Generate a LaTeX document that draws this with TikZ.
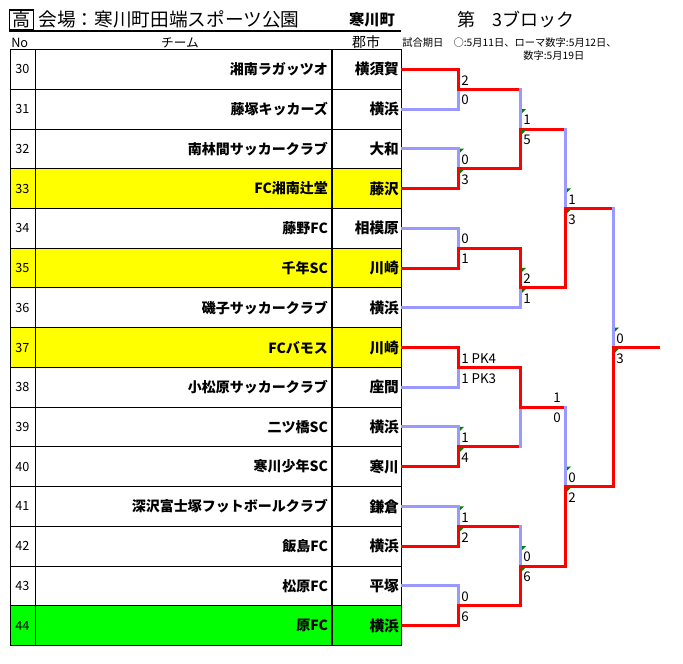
\documentclass[tikz,border=0pt]{standalone}
\usepackage{fontspec}
\setmainfont{Noto Sans CJK JP}
\usetikzlibrary{positioning}

\definecolor{wincol}{RGB}{255,0,0}
\definecolor{losecol}{RGB}{153,153,255}
\definecolor{seedyel}{RGB}{255,255,0}
\definecolor{seedgrn}{RGB}{0,255,0}
\definecolor{errgrn}{RGB}{0,128,0}

\begin{document}
\begin{tikzpicture}[
        x=0.75pt, y=-0.75pt,
        nocell/.style={rectangle, draw=black, line width=0.7pt, minimum width=18.75pt, minimum height=29.8pt, inner sep=0pt, align=center, font=\fontsize{9.5}{11}\selectfont},
        teamcell/.style={rectangle, draw=black, line width=0.7pt, minimum width=222pt, minimum height=29.8pt, inner xsep=3pt, inner ysep=0pt, text width=216pt, align=right, font=\fontsize{10.5}{12}\selectfont\bfseries},
        citycell/.style={rectangle, draw=black, line width=0.7pt, minimum width=51.75pt, minimum height=29.8pt, inner xsep=2.25pt, inner ysep=0pt, text width=47.25pt, align=right, font=\fontsize{11}{13}\selectfont\bfseries},
        head/.style={inner sep=0pt, font=\fontsize{9.5}{11}\selectfont},
        note/.style={anchor=west, inner sep=0pt, font=\fontsize{7.7}{9}\selectfont},
        win/.style={draw=wincol, line width=2.25pt, line cap=rect},
        lose/.style={draw=losecol, line width=2.25pt, line cap=rect},
        score/.style={anchor=west, inner sep=0pt, font=\fontsize{10}{12}\selectfont},
        errmark/.pic={\fill[errgrn] (0,0) -- (4,0) -- (0,4) -- cycle;}
        ]

        \fill[white] (0,0) rectangle (683,664);
        \useasboundingbox (0,0) rectangle (683,664);

        % title line
        \node[draw, line width=1pt, minimum width=18pt, minimum height=14.5pt, inner sep=0pt, font=\fontsize{13.5}{14}\selectfont] (koukou) at (21.5,19.5) {高};
        \node[inner sep=0pt, right=3pt of koukou, font=\fontsize{14}{16}\selectfont] (venue) {会場：寒川町田端スポーツ公園};
        \node[inner sep=0pt, font=\fontsize{11.5}{13}\selectfont\bfseries] (town) at (372,20) {寒川町};
        \node[inner sep=0pt, font=\fontsize{13.5}{15}\selectfont] (block) at (516,20) {第\hspace{0.9em}3ブロック};
        \draw[line width=0.8pt] (9,31) -- (401,31);

        % column heads and dates
        \node[head, anchor=west] (hno) at (11,42.5) {No};
        \node[head] (hteam) at (180,42.5) {チーム};
        \node[head, font=\fontsize{10.5}{12}\selectfont] (hcity) at (366,42) {郡市};
        \node[note] (note1) at (402,43) {試合期日　○:5月11日、ローマ数字:5月12日、};
        \node[note] (note2) at (523,56) {数字:5月19日};

        % table rows
        \foreach \n/\team/\city/\bg [count=\k from 0] in {
            30/湘南ラガッツオ/横須賀/white,
            31/藤塚キッカーズ/横浜/white,
            32/南林間サッカークラブ/大和/white,
            33/FC湘南辻堂/藤沢/seedyel,
            34/藤野FC/相模原/white,
            35/千年SC/川崎/seedyel,
            36/磯子サッカークラブ/横浜/white,
            37/FCバモス/川崎/seedyel,
            38/小松原サッカークラブ/座間/white,
            39/二ツ橋SC/横浜/white,
            40/寒川少年SC/寒川/white,
            41/深沢富士塚フットボールクラブ/鎌倉/white,
            42/飯島FC/横浜/white,
            43/松原FC/平塚/white,
            44/原FC/横浜/seedgrn}
        {
            \node[nocell, fill=\bg] (n\n) at (22.5,{69.4+39.73*\k}) {\n};
            \node[teamcell, fill=\bg, right=0pt of n\n] (t\n) {\team};
            \node[citycell, fill=\bg, right=0pt of t\n] (c\n) {\city};
        }

        % junctions
        \coordinate (q1) at (458,89.2);
        \coordinate (q2) at (458,168.7);
        \coordinate (q3) at (458,248.1);
        \coordinate (q4) at (458,367.3);
        \coordinate (q5) at (458,446.8);
        \coordinate (q6) at (458,526.3);
        \coordinate (q7) at (458,605.7);
        \coordinate (r1) at (520,129);
        \coordinate (r2) at (520,287.9);
        \coordinate (r3) at (520,407);
        \coordinate (r4) at (520,566);
        \coordinate (s1) at (565,208.4);
        \coordinate (s2) at (565,486.5);
        \coordinate (f) at (613,347.5);
        \coordinate (champ) at (658,347.5);

        % first round
        \draw[win] (c30.east) -| (q1);
        \draw[lose] (c31.east) -| (q1);
        \draw[lose] (c32.east) -| (q2);
        \draw[win] (c33.east) -| (q2);
        \draw[lose] (c34.east) -| (q3);
        \draw[win] (c35.east) -| (q3);
        \draw[win] (c37.east) -| (q4);
        \draw[lose] (c38.east) -| (q4);
        \draw[lose] (c39.east) -| (q5);
        \draw[win] (c40.east) -| (q5);
        \draw[lose] (c41.east) -| (q6);
        \draw[win] (c42.east) -| (q6);
        \draw[lose] (c43.east) -| (q7);
        \draw[win] (c44.east) -| (q7);

        % second round
        \draw[win] (q1) -- (q1 -| r1) edge[lose] (r1);
        \draw[win] (q2) -| (r1);
        \draw[win] (q3) -| (r2);
        \draw[lose] (c36.east) -| (r2);
        \draw[win] (q4) -| (r3);
        \draw[win] (q5) -- (q5 -| r3) edge[lose] (r3);
        \draw[win] (q6) -- (q6 -| r4) edge[lose] (r4);
        \draw[win] (q7) -| (r4);

        % third round and final
        \draw[win] (r1) -- (r1 -| s1) edge[lose] (s1);
        \draw[win] (r2) -| (s1);
        \draw[win] (r3) -- (r3 -| s2) edge[lose] (s2);
        \draw[win] (r4) -| (s2);
        \draw[win] (s1) -- (s1 -| f) edge[lose] (f);
        \draw[win] (s2) -| (f);
        \draw[win] (f) -- (champ);

        % scores
        \foreach \j/\a/\b in {q1/2/0, q2/0/3, q3/0/1, q4/1 PK4/1 PK3, q5/1/4, q6/1/2, q7/0/6,
                r1/1/5, r2/2/1, r4/0/6, s1/1/3, s2/0/2, f/0/3}
        {
            \node[score] (\j-a) at ([shift={(3,-9)}]\j) {\a};
            \node[score] (\j-b) at ([shift={(3,11)}]\j) {\b};
        }
        \node[score, anchor=east] (r3-a) at ([shift={(41,-9)}]r3) {1};
        \node[score, anchor=east] (r3-b) at ([shift={(41,11)}]r3) {0};

        \foreach \j in {q2, q5, q6, r1, r2, r4, s1, s2, f}
        {
            \pic at ([shift={(2,-20)}]\j) {errmark};
            \pic at ([shift={(2,1)}]\j) {errmark};
        }
    \end{tikzpicture}
\end{document}
